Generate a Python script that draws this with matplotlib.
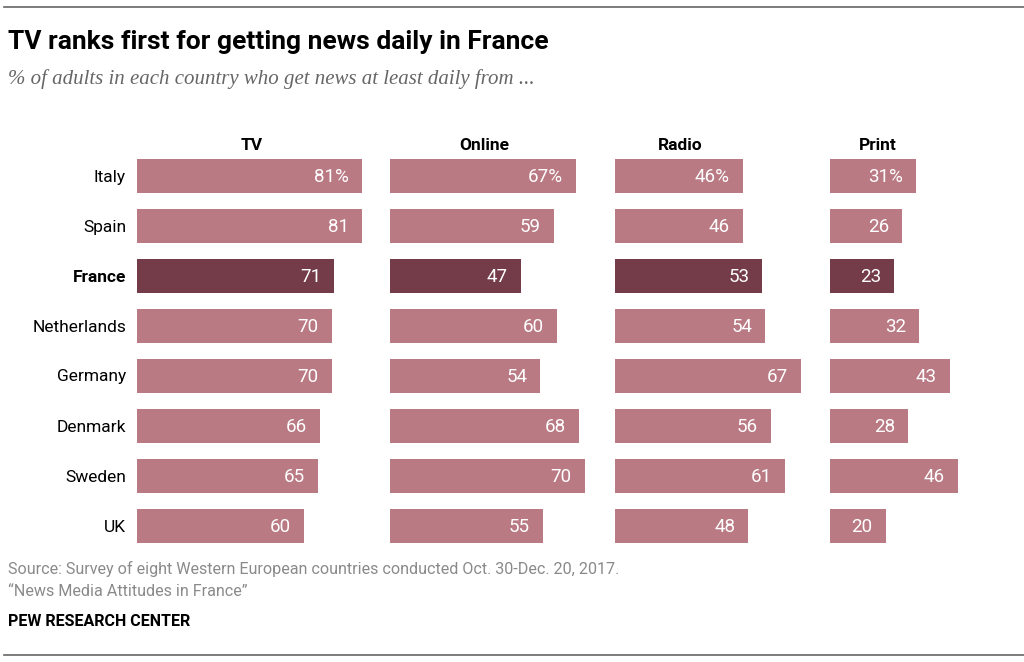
import matplotlib
matplotlib.use("Agg")
import matplotlib.pyplot as plt
from matplotlib.lines import Line2D

countries = ["Italy", "Spain", "France", "Netherlands", "Germany", "Denmark", "Sweden", "UK"]
media = ["TV", "Online", "Radio", "Print"]
tv = [81, 81, 71, 70, 70, 66, 65, 60]
online = [67, 59, 47, 60, 54, 68, 70, 55]
radio = [46, 46, 53, 54, 67, 56, 61, 48]
paper = [31, 26, 23, 32, 43, 28, 46, 20]
highlight = "France"

light = "#b97a84"
dark = "#733c48"

W, H = 1024, 662
fig = plt.figure(figsize=(W / 100, H / 100), dpi=100)
plt.rcParams['font.family'] = ['Roboto', 'DejaVu Sans']

px = 2.78  # pixels per percentage point
panels = [(137, 85, 252), (390, 75, 484), (615, 75, 680), (830, 50, 878)]
top, bottom = 151, 551

for (left, xmax, hx), name, vals in zip(panels, media, [tv, online, radio, paper]):
    ax = fig.add_axes([left / W, 1 - bottom / H, xmax * px / W, (bottom - top) / H])
    cols = [dark if c == highlight else light for c in countries]
    ax.barh(range(len(countries)), vals, height=0.67, color=cols)
    for i, v in enumerate(vals):
        lab = f"{v}%" if i == 0 else str(v)
        ax.text(v - 13 / px, i + 0.02, lab, ha="right", va="center", color="white",
                fontsize=13.5)
    ax.set_xlim(0, xmax)
    ax.set_ylim(len(countries) - 0.5, -0.5)
    ax.axis("off")
    fig.text(hx / W, 1 - 145 / H, name, ha="center", va="center",
             fontsize=12.5, fontweight="bold")
    if name == "TV":
        for i, c in enumerate(countries):
            ax.text(-11 / px, i + 0.02, c, ha="right", va="center", fontsize=12.5,
                    color="black", fontweight="bold" if c == highlight else "normal")

fig.text(8 / W, 1 - 42 / H, "TV ranks first for getting news daily in France",
         fontsize=19, fontweight="bold", va="center")
fig.text(8 / W, 1 - 79 / H, "% of adults in each country who get news at least daily from ...",
         fontsize=15, style="italic", color="#666666", va="center",
         family=["Liberation Serif", "DejaVu Serif"])
fig.text(8 / W, 1 - 569 / H,
         "Source: Survey of eight Western European countries conducted Oct. 30-Dec. 20, 2017.",
         fontsize=11.6, color="#8a8a8a", va="center")
fig.text(8 / W, 1 - 591 / H, "\u201cNews Media Attitudes in France\u201d",
         fontsize=11.6, color="#8a8a8a", va="center")
fig.text(8 / W, 1 - 621 / H, "PEW RESEARCH CENTER", fontsize=11.5,
         fontweight="bold", va="center")

for y in (7, 655):
    fig.add_artist(Line2D([4 / W, 1], [1 - y / H, 1 - y / H], color="#666666", lw=1.2))

fig.savefig("out.png", dpi=100)
